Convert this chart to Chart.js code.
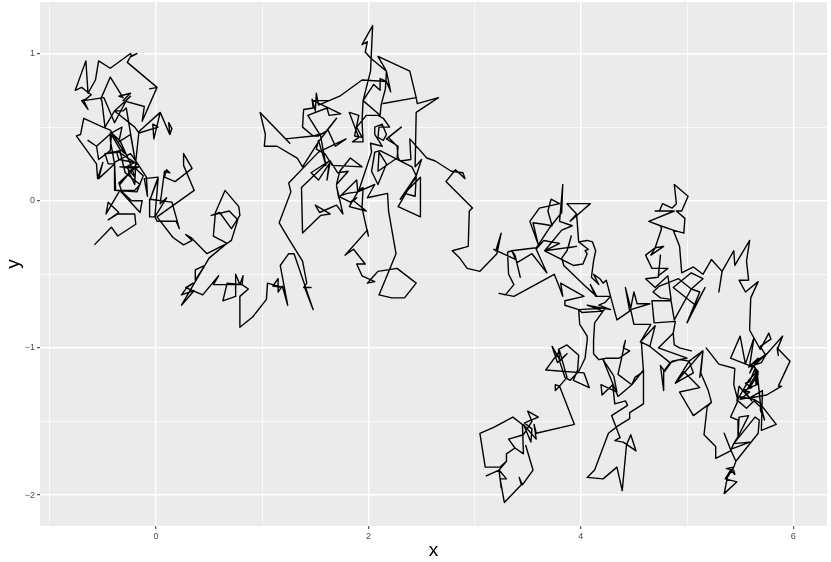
<!DOCTYPE html>
<html>
<head>
<meta charset="utf-8">
<style>
  html, body { margin: 0; padding: 0; background: #fff; }
  canvas { display: block; }
</style>
<script src="https://cdn.jsdelivr.net/npm/chart.js@4"></script>
</head>
<body>
<canvas id="walk" width="831" height="562"></canvas>
<script>
// walk values, one stretch at a time
const leftX = [
  -.58,-.42,-.36,-.19,-.20,-.36,-.45,-.35,-.45,-.47,
  -.34,-.15,-.13,-.23,-.32,-.35,-.20,-.34,-.16,-.26,
  -.20,-.19,-.24,-.39,-.38,-.20,-.15,-.29,-.34,-.48,
  -.45,-.39,-.54,-.50,-.55,-.56,-.75,-.71,-.68,-.50,
  -.43,-.29,-.34,-.42,-.43,-.54,-.56,-.64,-.56,-.42,
  -.43,-.43,-.39,-.39,-.18,-.12,-.21,-.34,-.18,-.35,
  -.46,-.37,-.35,-.20,-.28,-.20,-.24,-.34,-.42,
  -.32,-.35,-.24,-.20,-.28,-.31,-.39,-.48,-.51,-.52,
  -.43,-.31,-.35,-.24,-.31,-.11,-.13,.01,-.06,.01,
  -.27,-.24,-.18,-.23,-.24,-.43,-.54,-.57,-.64,-.66,
  -.76,-.70,-.61,-.66,-.70,-.64,-.68,-.49,-.39,-.28,
  -.24,-.39,-.20,-.16,.02,-.03,-.02,.04,.13,.15,
  .12,.13,.04,-.16,-.19,-.09,-.08,-.11,.02,-.06,
  .02,-.01,-.06,-.06,.15,.22,.19,.01,-.01,.10,
  .04,.08,.13,.10,.08,.18,.34,.26,.26,.36,
  .01,.16,.26,.34,.28,.33,.48,.67
];
const leftY = [
  -.30,-.18,-.24,-.16,-.09,-.09,-.13,-.08,-.01,-.09,
  .07,-.08,0,0,.06,.12,.22,.23,.23,.20,
  .11,.27,.32,.26,.07,.07,.11,.19,.34,.32,
  .25,.25,.15,.26,.15,.25,.44,.45,.56,.50,
  .48,.32,.35,.45,.34,.28,.37,.41,.37,.46,
  .46,.41,.25,.07,.06,.17,.23,.11,.25,.33,
  .32,.33,.28,.26,.23,.16,.25,.41,.46,
  .50,.40,.45,.29,.63,.61,.61,.50,.68,.69,
  .84,.70,.71,.73,.68,.64,.54,.77,.76,.77,
  .94,.98,1.00,.98,1.00,.90,.95,.82,.73,.95,
  .75,.77,.72,.69,.68,.62,.68,.70,.53,.68,
  .71,.61,.50,.46,.50,.52,.42,.60,.45,.49,
  .53,.45,.60,.47,.27,.16,.03,.15,.16,0,
  .15,-.11,-.11,.01,-.01,-.19,-.14,-.14,-.11,.02,
  -.02,.20,.19,.21,.16,.13,.22,.32,.24,.07,
  -.11,-.25,-.30,-.27,-.23,-.25,-.36,-.29
];

const dipX = [
  .54,.56,.65,.78,.79,.71,.60,.52,.69,.77,
  .71,.65,.50,.46,.37,.37,.46,.24,.36,.24,
  .29,.35,.28,.44,.59,.54,.81,.67,.63,.75,
  .75,.79,.82,.81,.87,.79,.79,.91,1.04,1.05,
  1.20,1.10,1.15,1.15,1.19,1.24,1.17,1.25,1.30,1.48,
  1.40,1.46,1.39,1.42,1.38,1.25,1.16,1.27,1.25
];
const dipY = [
  -.24,-.08,.07,-.04,-.10,-.19,-.08,-.10,-.07,-.13,
  -.27,-.30,-.39,-.44,-.47,-.54,-.44,-.71,-.61,-.64,
  -.59,-.56,-.59,-.64,-.51,-.57,-.57,-.56,-.68,-.65,
  -.50,-.57,-.51,-.57,-.60,-.65,-.86,-.79,-.67,-.56,
  -.59,-.58,-.53,-.62,-.58,-.71,-.44,-.36,-.36,-.74,
  -.59,-.59,-.59,-.56,-.41,-.26,-.15,.06,.12
];

const midX = [
  1.53,1.79,1.69,1.62,1.53,1.48,1.22,1.26,.98,1.03,
  1.02,1.14,1.33,1.38,1.53,1.70,1.59,1.48,1.38,1.39,
  1.48,1.47,1.50,1.51,1.53,1.73,1.63,1.48,1.74,1.63,
  1.61,1.43,1.55,1.60,1.53,1.51,1.59,1.66,1.94,1.83,
  1.73,1.70,1.81,1.71,1.64,1.61,1.63,1.53,1.46,1.63,
  1.37,1.38,1.55,1.64,1.50,1.54,1.70,1.76,1.70,1.72,
  1.89,1.90,1.80,1.72,1.83,1.89,1.86,1.98,1.82,1.90,
  2.06,1.99,2.18,2.19,2.26,2.10,2.22,2.34,2.45,2.27,
  2.09,2.04,1.99,2.06,1.94,1.89,1.97,1.86,1.78,1.99,
  2.00,1.94,1.95,1.91,2.03,2.02,2.13,2.06,2.06,2.13,
  2.17,2.14,2.09,2.10,2.20,2.14,2.09,1.98,1.89,1.94,
  1.87,1.91,1.82,1.91,1.85,1.95,1.94,1.95,2.05,2.11,
  2.11,2.17,1.94,1.73,1.94,2.17,2.21,2.17,2.02,1.97,
  1.99,1.94,2.04,2.02,1.95,2.11,2.12,2.16,2.17,2.09,
  2.39,2.45,2.14,2.45,2.46,2.66,2.45,2.44,2.50,2.45,
  2.30,2.45,2.44,2.34,2.49,2.49,2.28,2.45,2.41,2.11,
  2.06,2.03,2.09,2.17,2.10,2.09,2.27,2.28,2.17,2.31,
  2.19,2.27,2.28,2.30,2.40,2.39,2.55,2.63,2.78,2.89,
  2.91,2.82,2.73,2.98,2.95,2.94,2.79,2.86,2.93,3.05
];
const midY = [
  .33,.42,.37,.48,.44,.44,.42,.39,.60,.45,
  .37,.37,.29,.23,.40,.56,.46,.44,.50,.62,
  .63,.69,.61,.73,.65,.71,.68,.68,.59,.58,
  .63,.58,.44,.24,.41,.35,.32,.24,.23,.29,
  .20,.11,.20,.19,.27,.14,.25,.14,.19,.27,
  .09,-.22,-.10,-.09,-.03,-.08,-.03,-.09,.10,.02,
  .14,.06,.05,.03,-.01,.02,0,-.07,-.04,.06,
  .11,.02,.05,-.07,-.36,-.64,-.66,-.66,-.56,-.46,
  -.48,-.52,-.56,-.55,-.51,-.43,-.43,-.33,-.37,-.20,
  -.24,-.05,.09,.07,.33,.39,.37,.45,.50,.52,
  .45,.41,.43,.50,.50,.56,.58,.58,.50,.43,
  .44,.58,.60,.43,.40,.40,.54,.68,.79,.75,
  .83,.81,.82,.71,.82,.81,.74,.88,.97,1.01,
  1.08,1.06,1.19,.88,.68,.58,.65,.76,.88,.98,
  .88,.70,.66,.70,.66,.70,.60,.23,.28,.17,
  .01,.16,.03,.05,.16,-.11,-.04,.17,.23,.34,
  .33,.20,.11,.25,.33,.20,.29,.37,.42,.50,
  .43,.37,.29,.27,.28,.42,.29,.27,.20,.19,
  .15,.21,.13,-.05,-.07,-.31,-.34,-.39,-.46,-.48
];

const centerX = [
  3.21,3.25,3.20,3.18,3.39,3.43,3.38,3.35,3.31,3.32,
  3.37,3.29,3.23,3.37,3.75,3.80,3.83,3.81,4.03,3.85,
  3.85,3.98,4.01,4.21,4.06,4.28,4.17,4.23,4.28,4.14,
  4.09,4.15,4.04,3.84,3.82,3.87,3.91,3.88,3.96,3.66,
  3.80,3.65,3.58,3.68,3.54,3.40,3.35,3.58,3.60,3.52,
  3.61,3.80,3.72,3.69,3.73,3.65,3.55,3.60,3.71,3.82,
  3.83,3.80,3.92,3.82,3.66,3.93,4.02,4.06,4.04,4.07,
  3.98,3.96,3.87,4.09,3.90,3.96,3.98,4.06,4.11,4.14,
  4.12,4.10,4.17,4.12,4.18,4.21,4.24,4.28,4.34,4.46,
  4.42,4.47
];
const centerY = [
  -.36,-.22,-.34,-.33,-.40,-.52,-.37,-.34,-.35,-.50,
  -.57,-.64,-.63,-.65,-.50,-.59,-.65,-.56,-.65,-.68,
  -.71,-.74,-.76,-.75,-.71,-.74,-.71,-.69,-.65,-.65,
  -.57,-.65,-.58,-.44,-.39,-.34,-.24,-.32,-.31,-.34,
  -.29,-.27,-.33,-.49,-.36,-.42,-.34,-.32,-.30,-.14,
  -.05,-.02,.01,-.07,-.17,-.16,-.15,-.30,-.18,-.08,
  .11,-.14,-.17,-.20,-.34,-.44,-.43,-.36,-.34,-.33,
  -.28,-.09,-.02,-.02,-.14,-.09,-.28,-.27,-.28,-.34,
  -.41,-.52,-.57,-.50,-.53,-.56,-.54,-.65,-.81,-.75,
  -.59,-.73
];

const columnX = [
  4.50,4.53,4.65,4.47,4.50,4.66,4.56,4.70,4.65,4.84,
  4.78,4.78,4.75,4.79,4.86,4.93,5.00,4.73,4.87,4.88,
  4.93,5.04,4.93,4.88,4.87,4.89,4.69,4.67,4.85,4.88,
  5.04,5.12,5.00,5.17,5.08,4.87,5.04,5.15,5.04,4.92,
  4.74,4.68,4.75,4.85,4.82,4.70,4.61,4.73,4.75,4.73,
  4.82,4.67,4.61,4.70,4.78,4.66,4.70,4.76,4.75,4.64,
  4.88,4.70,4.74,4.77,4.86,4.90,4.88,5.01,4.95,4.90,
  4.98,4.97,4.87,4.75,4.87,4.93,4.95,5.06,5.15,5.23,
  5.33,5.30,5.33,5.44,5.45,5.59,5.56,5.58,5.49,5.55,
  5.67,5.60,5.59
];
const columnY = [
  -.62,-.70,-.70,-.74,-.84,-.84,-.96,-.85,-.99,-1.10,
  -1.16,-1.29,-1.12,-1.16,-1.09,-1.08,-1.07,-1.00,-.90,-.98,
  -1.00,-1.02,-1.00,-.98,-.90,-.82,-.83,-.68,-.68,-.81,
  -.60,-.62,-.83,-.59,-.71,-.59,-.49,-.53,-.60,-.53,
  -.58,-.62,-.66,-.67,-.51,-.59,-.53,-.52,-.37,-.51,
  -.46,-.46,-.37,-.32,-.31,-.37,-.32,-.19,-.17,-.14,
  -.07,-.07,-.07,-.02,-.05,-.02,.11,.03,-.07,-.07,
  -.12,-.22,-.20,-.17,-.20,-.31,-.49,-.45,-.50,-.40,
  -.48,-.62,-.48,-.34,-.44,-.27,-.41,-.54,-.54,-.62,
  -.55,-.66,-.86
];

const rightX = [
  5.59,5.69,5.77,5.79,5.69,5.74,5.59,5.63,5.55,5.50,
  5.41,5.59,5.75,5.63,5.67,5.59,5.66,5.66,5.55,5.61,
  5.49,5.47,5.58,5.66,
  5.70,5.69,5.70,5.63,5.48,5.56,5.50,5.59,5.52,5.61,
  5.55,5.59,5.64,5.65,5.67,5.62,5.59,5.67,5.58,5.70,
  5.74,5.90,5.85,5.86,5.85,5.97,
  5.86,5.89,5.75,5.59,5.71,5.70,5.84,5.69,5.73,5.69,
  5.63,5.56,5.48,5.44,5.45,5.30,5.18,5.30,5.45,5.44,
  5.48,5.41,5.48,5.48,5.49,5.58,5.49,5.44,5.64,5.68,
  5.67,5.46,5.44,5.37,5.44,5.45,5.41,5.36,5.47,5.35,
  5.38,5.44,5.46,5.41,5.35,5.41,5.59,5.44,5.41,5.27,
  5.27,5.16,5.19,5.23,5.06,4.93,5.12,4.97,4.89,5.06,
  5.02,5.15,5.12,5.13,5.20,5.23,5.20,5.13,5.15,4.89,
  5.02,4.93,4.84,4.65,4.57,4.59,4.51
];
const rightY = [
  -.88,-1.01,-.90,-.94,-.99,-1.05,-1.12,-.93,-1.11,-.92,
  -1.07,-1.12,-1.04,-1.12,-1.18,-1.27,-1.25,-1.17,-1.30,-1.36,
  -1.26,-1.36,-1.22,-1.16,
  -1.44,-1.42,-1.38,-1.35,-1.33,-1.34,-1.35,-1.30,-1.29,-1.27,
  -1.24,-1.23,-1.14,-1.25,-1.16,-1.12,-1.17,-1.07,-1.13,-1.10,
  -1.05,-.92,-1.01,-1.05,-1.00,-1.09,
  -1.26,-1.26,-1.32,-1.34,-1.29,-1.56,-1.52,-1.38,-1.49,-1.40,
  -1.36,-1.41,-1.36,-1.25,-1.14,-1.11,-1.00,-1.11,-1.14,-1.25,
  -1.36,-1.47,-1.49,-1.61,-1.47,-1.46,-1.59,-1.65,-1.47,-1.49,
  -1.58,-1.77,-1.81,-1.82,-1.83,-1.86,-1.83,-1.89,-1.91,-1.99,
  -1.88,-1.81,-1.77,-1.69,-1.58,-1.69,-1.64,-1.65,-1.70,-1.75,
  -1.67,-1.59,-1.40,-1.37,-1.46,-1.30,-1.27,-1.16,-1.24,-1.17,
  -1.09,-1.02,-1.20,-1.17,-1.29,-1.37,-1.29,-1.17,-1.02,-1.24,
  -1.09,-1.08,-1.10,-.99,-.96,-1.16,-1.20
];

const bottomX = [
  4.48,4.59,4.59,4.46,4.46,4.35,4.26,4.13,4.06,4.21,
  4.34,4.39,4.43,4.47,4.52,4.40,4.32,4.37,4.29,4.44,
  4.42,4.32,4.30,4.20,4.19,4.34,4.31,4.21,4.35,4.48,
  4.35,4.42,4.40,4.46,4.36,4.24,4.17,4.12,4.12,4.13,
  4.23,3.98,3.99,4.06,4.06,4.04,3.98,3.90,3.85,3.80,
  3.87,3.78,3.73,3.80,3.79,3.87,3.98,3.97,3.93,4.08,
  4.03,3.67,3.80,3.87,3.80,3.76,3.76,3.80,3.94,3.58,
  3.56,3.58,3.46,3.53,3.54,3.47,3.60,3.50,3.54,3.46,
  3.32,3.38,3.46,3.45,3.36,3.18,3.05,3.10,3.24,3.30,
  3.30,3.38,3.30,3.30,3.23,3.11,3.23,3.25,3.23,3.30,
  3.24,3.28,3.44,3.42,3.45,3.55,3.48
];
const bottomY = [
  -1.25,-1.15,-1.38,-1.44,-1.48,-1.53,-1.58,-1.83,-1.88,-1.89,
  -1.81,-1.97,-1.66,-1.59,-1.70,-1.64,-1.63,-1.61,-1.46,-1.39,
  -1.36,-1.38,-1.25,-1.32,-1.25,-1.30,-1.19,-1.08,-1.33,-1.25,
  -1.18,-.95,-1.00,-1.02,-1.07,-1.07,-1.08,-1.04,-.95,-.83,
  -.73,-.74,-.84,-.92,-.95,-1.07,-1.16,-1.22,-1.20,-1.09,
  -1.04,-1.10,-.99,-1.08,-1.01,-.98,-1.05,-1.15,-1.22,-1.27,
  -1.17,-1.15,-1.02,-1.20,-1.26,-1.29,-1.25,-1.26,-1.52,-1.58,
  -1.52,-1.62,-1.52,-1.64,-1.55,-1.51,-1.47,-1.43,-1.50,-1.59,
  -1.62,-1.68,-1.72,-1.52,-1.47,-1.54,-1.58,-1.81,-1.81,-1.77,
  -1.72,-1.68,-1.72,-1.77,-1.83,-1.87,-1.83,-1.95,-1.83,-1.89,
  -1.89,-2.05,-1.93,-1.88,-1.93,-1.83,-1.66
];

const walkX = [...leftX, ...dipX, ...midX, ...centerX, ...columnX, ...rightX, ...bottomX];
const walkY = [...leftY, ...dipY, ...midY, ...centerY, ...columnY, ...rightY, ...bottomY];

const xGrid = [-1, 0, 1, 2, 3, 4, 5, 6];
const yGrid = [-2, -1.5, -1, -0.5, 0, 0.5, 1];
const xLabels = [0, 2, 4, 6];
const yLabels = [-2, -1, 0, 1];

// grey ggplot panel behind the grid
const panelBackground = {
  id: "panelBackground",
  beforeDraw(chart) {
    const { ctx, chartArea: a } = chart;
    ctx.save();
    ctx.fillStyle = "#ebebeb";
    ctx.fillRect(a.left, a.top, a.width, a.height);
    ctx.restore();
  },
};

function axisOptions(grid, labels, titleText, size, titlePadding) {
  const isMajor = (v) => labels.includes(v);
  return {
    type: "linear",
    afterBuildTicks: (axis) => {
      axis.ticks = grid.map((v) => ({ value: v }));
    },
    afterFit: (axis) => {
      if (axis.isHorizontal()) axis.height = size;
      else axis.width = size;
      // no room for half labels, the panel runs to the exact edges
      axis.paddingTop = axis.paddingBottom = axis.paddingLeft = axis.paddingRight = 0;
    },
    border: { display: false },
    grid: {
      color: "#ffffff",
      lineWidth: (c) => (isMajor(c.tick.value) ? 1.4 : 0.7),
      tickColor: (c) => (isMajor(c.tick.value) ? "#333333" : "rgba(0,0,0,0)"),
      tickWidth: 1,
      tickLength: 3,
    },
    ticks: {
      autoSkip: false,
      maxRotation: 0,
      padding: 2,
      color: "#4d4d4d",
      font: { family: "'Liberation Sans'", size: 9 },
      callback: (v) => (isMajor(v) ? String(v).replace("-", "\u2212") : ""),
    },
    title: {
      display: true,
      text: titleText,
      color: "#000000",
      font: { family: "'Liberation Sans'", size: 19 },
      padding: titlePadding,
    },
  };
}

new Chart(document.getElementById("walk").getContext("2d"), {
  type: "scatter",
  data: {
    datasets: [
      {
        data: walkX.map((x, i) => ({ x: x, y: walkY[i] })),
        showLine: true,
        borderColor: "#000000",
        borderWidth: 1.4,
        borderJoinStyle: "round",
        pointRadius: 0,
        tension: 0,
      },
    ],
  },
  options: {
    responsive: false,
    animation: false,
    layout: { padding: { top: 2, right: 4, left: 0, bottom: 0 } },
    plugins: { legend: { display: false }, tooltip: { enabled: false } },
    scales: {
      x: { ...axisOptions(xGrid, xLabels, "x", 36, { top: 0, bottom: 0 }), min: -1.092, max: 6.318 },
      y: { ...axisOptions(yGrid, yLabels, "y", 40, { top: 2, bottom: 0 }), min: -2.21, max: 1.35 },
    },
  },
  plugins: [panelBackground],
});
</script>
</body>
</html>
